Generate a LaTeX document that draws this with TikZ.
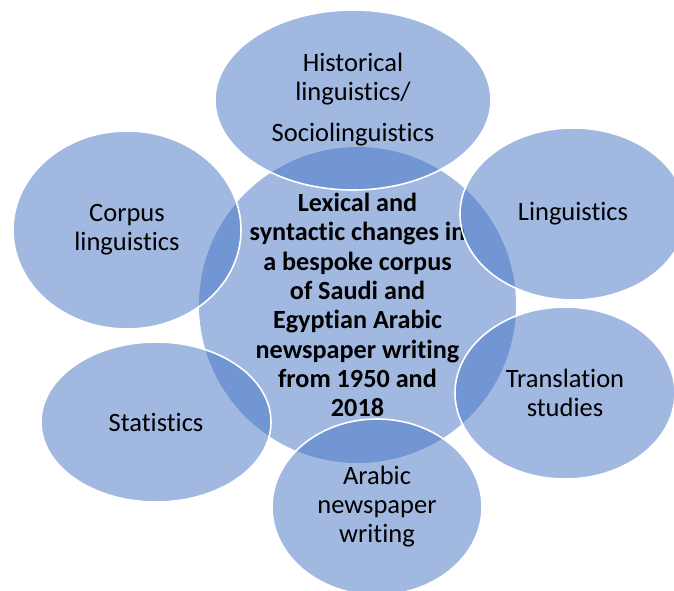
\documentclass[tikz,border=0pt]{standalone}
\usepackage{fontspec}
\setmainfont{Carlito}[Ligatures={NoCommon}]
\usetikzlibrary{shapes.geometric}
\definecolor{cblue}{HTML}{4472C4}
\tikzset{
  every picture/.style={line width=1.6pt},
  hub/.style={ellipse, fill=cblue, fill opacity=0.5, draw=none, inner sep=0pt},
  bubble/.style={ellipse, fill=cblue, fill opacity=0.5, text opacity=1, draw=white, draw opacity=1, inner sep=0pt, align=center, font=\fontsize{26.5}{29}\selectfont},
  hubtext/.style={align=center, font=\fontsize{26.2}{29.3}\selectfont\bfseries},
}
\begin{document}
\begin{tikzpicture}[x=1pt, y=-1pt]
  \clip (0,0) rectangle (674,590);
  \useasboundingbox (0,0) rectangle (674,590);
  % centre topic
  \node[hub, minimum width=317pt, minimum height=316pt] (topic) at (357.5,305) {};
  \node[hubtext] (topictext) at (topic.center) {Lexical and\\syntactic changes in\\a bespoke corpus\\of Saudi and\\Egyptian Arabic\\newspaper writing\\from 1950 and\\2018};
  % surrounding fields
  \node[bubble, minimum width=276pt, minimum height=180pt] (hist) at (353,100) {Historical\\linguistics/\\[12pt]Sociolinguistics};
  \node[bubble, minimum width=226pt, minimum height=172pt] (ling) at (573,214) {Linguistics};
  \node[bubble, minimum width=220pt, minimum height=172pt] (trans) at (565,393) {Translation\\studies};
  \node[bubble, minimum width=210pt, minimum height=176pt] (arab) at (377,507) {Arabic\\newspaper\\writing};
  \node[bubble, minimum width=230pt, minimum height=160pt] (stat) at (156,422) {Statistics};
  \node[bubble, minimum width=228pt, minimum height=198pt] (corp) at (127,230) {Corpus\\linguistics};
\end{tikzpicture}
\end{document}
